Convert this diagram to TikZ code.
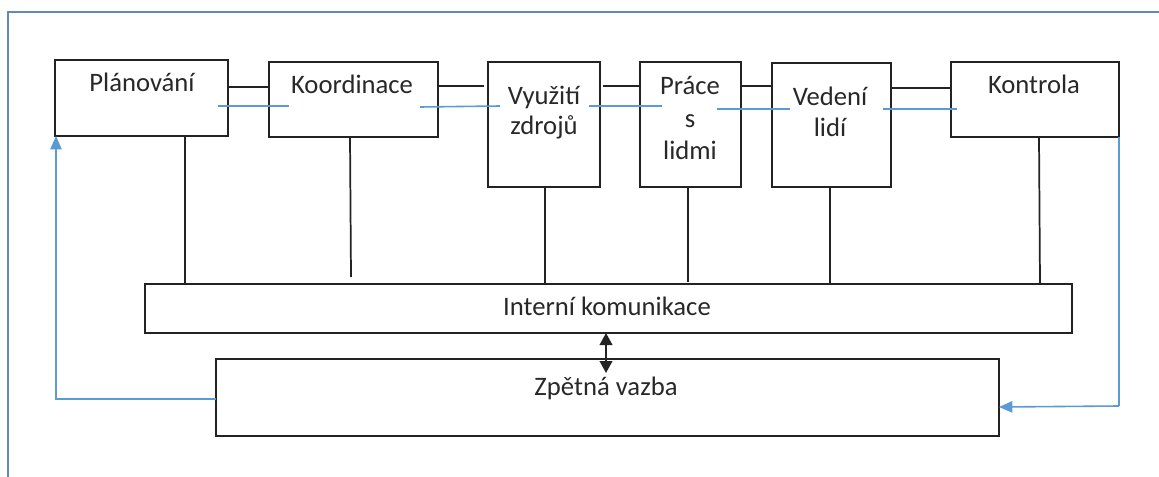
\documentclass[tikz,border=0pt]{standalone}
\usepackage{fontspec}
\setmainfont{Carlito}
\usetikzlibrary{fit,arrows.meta}

\definecolor{linegray}{RGB}{35,35,35}
\definecolor{textgray}{RGB}{40,40,40}
\definecolor{flowblue}{RGB}{91,155,213}
\definecolor{framesteel}{RGB}{96,136,186}

\tikzset{
  box/.style={draw=linegray, line width=1.5pt, inner sep=0pt, outer sep=0pt},
  lbl/.style={anchor=base, inner sep=0pt, text=textgray,
              font=\fontsize{20}{24}\selectfont},
  link/.style={draw=linegray, line width=1.3pt},
  bluelink/.style={draw=flowblue, line width=1.2pt},
  fb/.style={draw=flowblue, line width=1.2pt,
             -{Triangle[length=10pt,width=8.5pt]}},
  both/.style={draw=linegray, line width=1.3pt,
               {Triangle[length=9pt,width=9.5pt]}-{Triangle[length=9pt,width=9.5pt]}},
  frameline/.style={draw=framesteel, line width=1.5pt}
}

\begin{document}
\begin{tikzpicture}[x=0.75pt,y=-0.75pt]
  \useasboundingbox (0,0) rectangle (1159,477);
  \fill[white] (0,0) rectangle (1159,477);

  % enclosing frame (only top and left edges lie on the page)
  \draw[frameline] (8,477) -- (8,12) -- (1159,12);

  % process boxes
  \node[box, fit={(55,60) (228,136)}]   (plan)  {};
  \node[box, fit={(269,62) (438,137)}]  (koor)  {};
  \node[box, fit={(488,62) (600,187)}]  (vyuz)  {};
  \node[box, fit={(640,62) (741,187)}]  (prace) {};
  \node[box, fit={(772,63) (891,187)}]  (veden) {};
  \node[box, fit={(951,62) (1119,137)}] (kontr) {};
  \node[box, fit={(145,284) (1072,333)}] (intk) {};
  \node[box, fit={(216,359) (999,436)}]  (zpet) {};

  % box captions
  \node[lbl] (plan-t)   at (142,92)  {Plánování};
  \node[lbl] (koor-t)   at (352,94)  {Koordinace};
  \node[lbl] (vyuz-t1)  at (544,105) {Využití};
  \node[lbl] (vyuz-t2)  at (544,135) {zdrojů};
  \node[lbl] (prace-t1) at (690,95)  {Práce};
  \node[lbl] (prace-t2) at (690,128) {s};
  \node[lbl] (prace-t3) at (690,160) {lidmi};
  \node[lbl] (veden-t1) at (830,106) {Vedení};
  \node[lbl] (veden-t2) at (830,137) {lidí};
  \node[lbl] (kontr-t)  at (1034,94) {Kontrola};
  \node[lbl] (intk-t)   at (607,315) {Interní komunikace};
  \node[lbl] (zpet-t)   at (606,395) {Zpětná vazba};

  % black links between neighbouring boxes
  \draw[link] (plan.east |- 0,87)  -- (koor.west |- 0,87);
  \draw[link] (koor.east |- 0,86)  -- ([xshift=-3pt]vyuz.west |- 0,86);
  \draw[link] ([xshift=2.5pt]vyuz.east |- 0,86) -- (prace.west |- 0,86);
  \draw[link] (prace.east |- 0,86) -- (veden.west |- 0,86);
  \draw[link] (veden.east |- 0,88) -- (kontr.west |- 0,88);

  % blue links between neighbouring boxes
  \draw[bluelink] (218,106) -- (289,106);
  \draw[bluelink] (420,107) -- (500,106);
  \draw[bluelink] (589,106) -- (662,106);
  \draw[bluelink] (717,109) -- (790,109);
  \draw[bluelink] (883,109) -- (957,109);

  % drops from every box to internal communication
  \draw[link] (185,0 |- plan.south)  -- (185,0 |- intk.north);
  \draw[link] (350,0 |- koor.south)  -- (351,277);
  \draw[link] (545,0 |- vyuz.south)  -- (545,0 |- intk.north);
  \draw[link] (688,0 |- prace.south) -- (688,282);
  \draw[link] (830,0 |- veden.south) -- (830,0 |- intk.north);
  \draw[link] (1039,0 |- kontr.south) -- (1040,0 |- intk.north);

  % exchange between internal communication and feedback
  \coordinate (xchg) at (606,373);
  \draw[both] (606,0 |- intk.south) -- (xchg);

  % feedback loops
  \draw[fb] (zpet.west |- 0,399) -| (56,0 |- plan.south);
  \coordinate (kturn) at (1119,406);
  \draw[bluelink] (kontr.south east) -- (kturn);
  \draw[fb] (kturn) -- (zpet.east |- 0,407);
\end{tikzpicture}
\end{document}
